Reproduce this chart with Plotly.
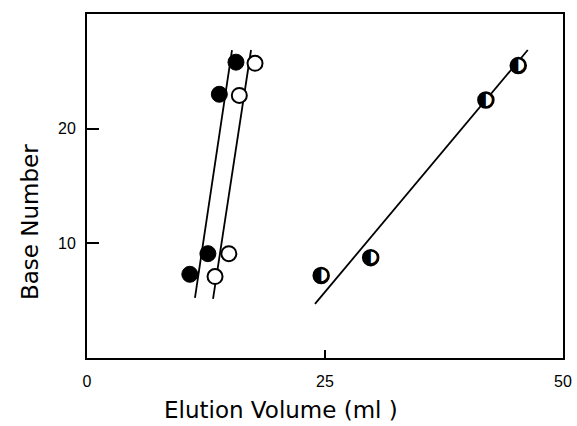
import plotly.graph_objects as go

# Data
filled_x = [10.8, 12.7, 13.9, 15.65]
filled_y = [7.3, 9.1, 23.0, 25.8]
open_x = [13.45, 14.9, 16.0, 17.65]
open_y = [7.1, 9.1, 22.9, 25.7]
half_x = [24.6, 29.8, 41.9, 45.3]
half_y = [7.2, 8.75, 22.5, 25.5]

# Fitted line endpoints
filled_line_x = [11.34, 15.23]
filled_line_y = [5.25, 26.86]
open_line_x = [13.24, 17.23]
open_line_y = [5.16, 26.86]
half_line_x = [23.95, 46.3]
half_line_y = [4.72, 26.86]

x_ticks = [0, 25, 50]
y_ticks = [10, 20]

fig = go.Figure()
line_style = dict(color="black", width=1.8)
for lx, ly in [(filled_line_x, filled_line_y), (open_line_x, open_line_y), (half_line_x, half_line_y)]:
    fig.add_trace(go.Scatter(x=lx, y=ly, mode="lines", line=line_style, hoverinfo="skip"))

fig.add_trace(go.Scatter(x=filled_x, y=filled_y, mode="markers",
                         marker=dict(symbol="circle", size=16, color="black",
                                     line=dict(color="black", width=1))))
fig.add_trace(go.Scatter(x=open_x, y=open_y, mode="markers",
                         marker=dict(symbol="circle", size=15, color="white",
                                     line=dict(color="black", width=2))))
fig.add_trace(go.Scatter(x=half_x, y=half_y, mode="markers",
                         marker=dict(symbol="circle", size=15, color="white",
                                     line=dict(color="black", width=2.5))))
fig.add_trace(go.Scatter(x=half_x, y=half_y, mode="text", text=["◐"] * len(half_x),
                         textposition="middle center",
                         textfont=dict(family="DejaVu Sans", size=19, color="black")))

axis_common = dict(showgrid=False, zeroline=False, showline=True, linecolor="black",
                   linewidth=2, mirror=True, ticks="inside", tickcolor="black",
                   tickwidth=2, automargin=False,
                   tickfont=dict(family="Liberation Sans Narrow, Liberation Sans", size=16, color="black"))

fig.update_layout(
    width=577, height=426,
    margin=dict(l=87, r=14, t=14, b=68),
    paper_bgcolor="white", plot_bgcolor="white",
    showlegend=False,
    xaxis=dict(range=[0, 50], tickvals=x_ticks, ticktext=[str(v) for v in x_ticks],
               ticklen=8, ticklabelstandoff=8, **axis_common),
    yaxis=dict(range=[0, 30], tickvals=y_ticks, ticktext=[str(v) for v in y_ticks],
               ticklen=12, ticklabelstandoff=6, **axis_common),
    annotations=[
        dict(text="Elution Volume (ml )", xref="paper", yref="paper", x=0.408, y=-0.151,
             xanchor="center", yanchor="middle", showarrow=False,
             font=dict(family="DejaVu Sans", size=23, color="black")),
        dict(text="Base Number", xref="paper", yref="paper", x=-0.12, y=0.395,
             xanchor="center", yanchor="middle", showarrow=False, textangle=-90,
             font=dict(family="DejaVu Sans", size=23, color="black")),
    ],
)

fig.write_html("out.html")
